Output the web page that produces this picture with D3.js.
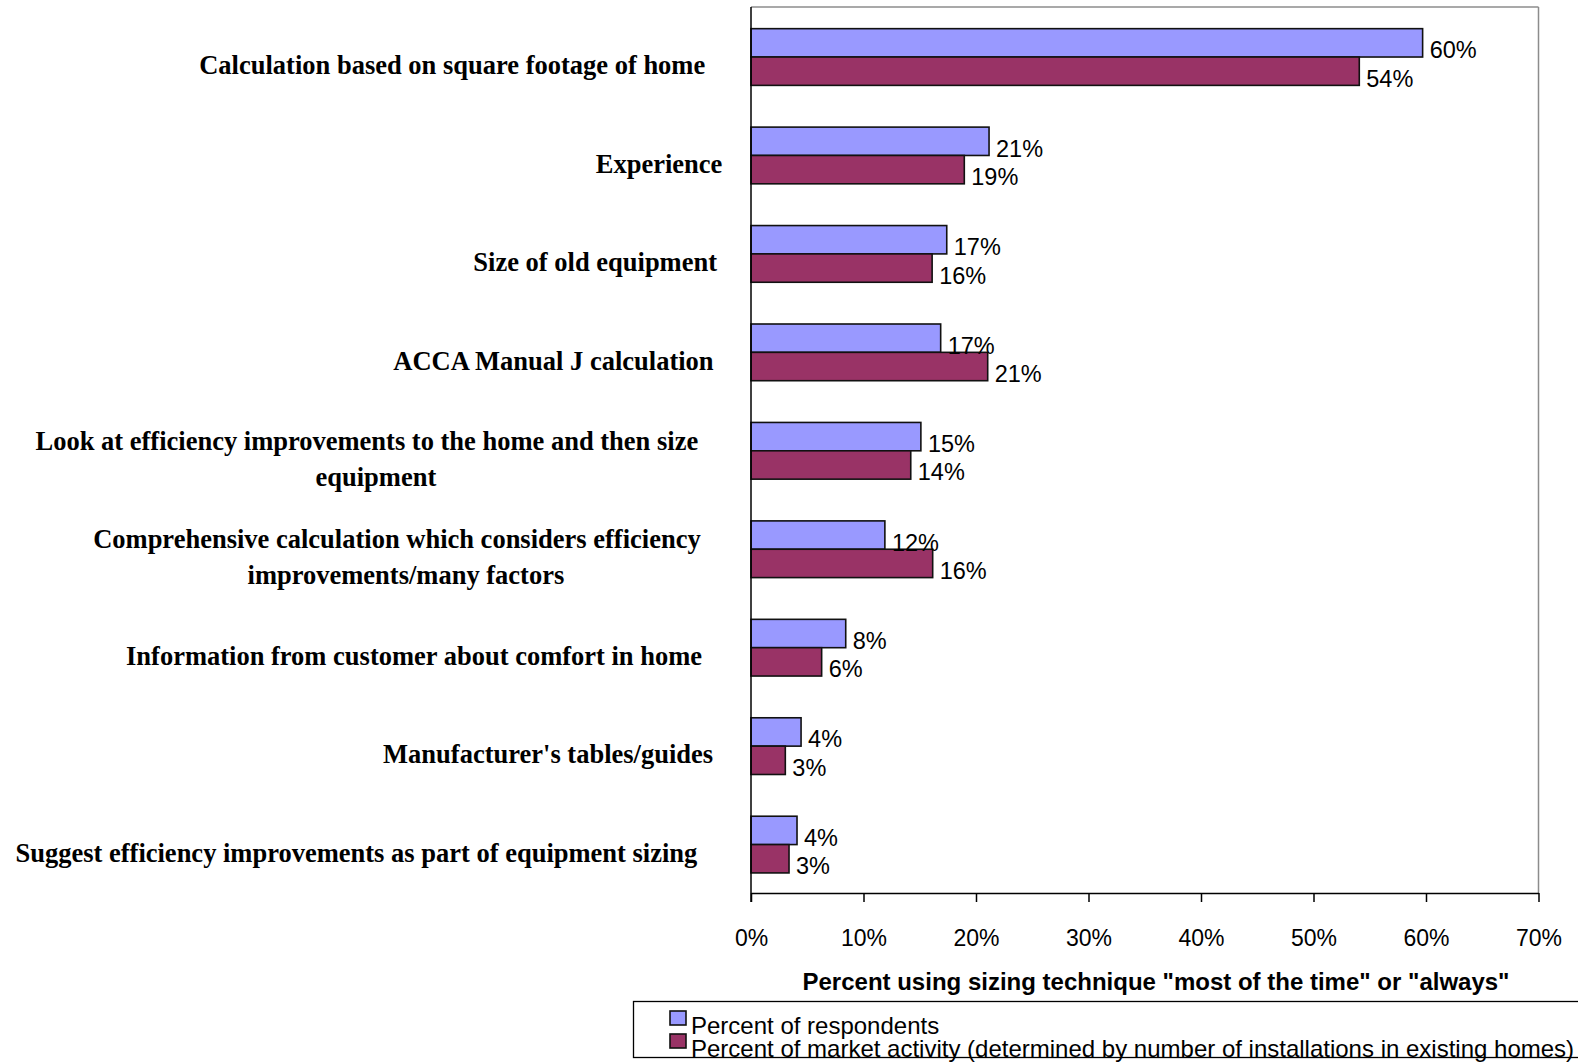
<!DOCTYPE html>
<html>
<head>
<meta charset="utf-8">
<script src="https://cdn.jsdelivr.net/npm/d3@7"></script>
<style>
  html, body { margin: 0; padding: 0; background: #ffffff; }
  svg { display: block; }
</style>
</head>
<body>
<svg id="chart" width="1578" height="1064"></svg>
<script>
// Sizing techniques (multi-line labels split on "\n")
const categories = [
  "Calculation based on square footage of home",
  "Experience",
  "Size of old equipment",
  "ACCA Manual J calculation",
  "Look at efficiency improvements to the home and then size\nequipment",
  "Comprehensive calculation which considers efficiency\nimprovements/many factors",
  "Information from customer about comfort in home",
  "Manufacturer's tables/guides",
  "Suggest efficiency improvements as part of equipment sizing"
];

// Percent values for each series
const respondents = [59.7, 21.16, 17.4, 16.86, 15.1, 11.9, 8.42, 4.45, 4.09];
const marketActivity = [54.07, 18.96, 16.1, 21.04, 14.2, 16.15, 6.28, 3.05, 3.38];

const seriesNames = [
  "Percent of respondents",
  "Percent of market activity (determined by number of installations in existing homes)"
];
const seriesColors = ["#9999FF", "#993366"];

const xTicks = [0, 10, 20, 30, 40, 50, 60, 70];
const tickLabels = ["0%", "10%", "20%", "30%", "40%", "50%", "60%", "70%"];
const axisTitle = "Percent using sizing technique \"most of the time\" or \"always\"";

const svg = d3.select("#chart");
const plot = { left: 751, right: 1538.5, top: 7, bottom: 893 };

const x = d3.scaleLinear().domain([0, 70]).range([plot.left, plot.right]);
const y = d3.scaleBand().domain(d3.range(categories.length))
  .range([plot.top, plot.bottom]).paddingInner(0.424).paddingOuter(0.212);
const ySub = d3.scaleBand().domain([0, 1]).range([0, y.bandwidth()]);

const rows = categories.map((c, i) => ({ i, label: c, values: [respondents[i], marketActivity[i]] }));

// Plot frame: grey top/right, black axes drawn later
svg.append("line").attr("x1", plot.left).attr("x2", plot.right)
  .attr("y1", plot.top).attr("y2", plot.top).attr("stroke", "#8c8c8c").attr("stroke-width", 1.5);
svg.append("line").attr("x1", plot.right).attr("x2", plot.right)
  .attr("y1", plot.top).attr("y2", plot.bottom).attr("stroke", "#8c8c8c").attr("stroke-width", 1.5);

// Bars
const groups = svg.append("g").selectAll("g").data(rows).join("g")
  .attr("transform", d => `translate(0,${y(d.i) + 0.8})`);

groups.selectAll("rect").data(d => d.values.map((v, s) => ({ v, s }))).join("rect")
  .attr("x", x(0))
  .attr("y", d => ySub(d.s))
  .attr("width", d => x(d.v) - x(0))
  .attr("height", ySub.bandwidth())
  .attr("fill", d => seriesColors[d.s])
  .attr("stroke", "#111")
  .attr("stroke-width", 1.6);

// Value labels
const pct = v => d3.format(".0f")(v) + "%";
groups.selectAll("text.val").data(d => d.values.map((v, s) => ({ v, s }))).join("text")
  .attr("class", "val")
  .attr("x", d => x(d.v) + 7)
  .attr("y", d => ySub(d.s) + ySub.bandwidth() / 2 + 15.5)
  .attr("font-family", "'Liberation Sans', Arial, sans-serif")
  .attr("font-size", 23.5)
  .attr("fill", "#000")
  .text(d => pct(d.v));

// Category labels (bold serif, centred lines, right side near axis)
const catG = svg.append("g")
  .attr("font-family", "'Liberation Serif', 'Times New Roman', serif")
  .attr("font-weight", "bold")
  .attr("font-size", 26.5)
  .attr("fill", "#000");

rows.forEach(r => {
  const lines = r.label.split("\n");
  const t = catG.append("text").attr("text-anchor", "middle");
  const cy = y(r.i) + y.bandwidth() / 2;
  const spans = lines.map((ln, k) => t.append("tspan")
    .attr("y", cy + 18 + (k - (lines.length - 1) / 2) * 36)
    .text(ln));
  const w = d3.max(spans, s => s.node().getComputedTextLength());
  const cx = 728 - 0.545 * w;
  // continuation lines sit slightly right of the first line
  spans.forEach((s, k) => s.attr("x", cx + (k > 0 ? 9 : 0)));
});

// Bottom axis
const xAxis = d3.axisBottom(x).tickValues(xTicks)
  .tickFormat((d, i) => tickLabels[i]).tickSize(9).tickSizeOuter(0);
const axG = svg.append("g").attr("transform", `translate(0,${plot.bottom})`).call(xAxis);
axG.select(".domain").attr("stroke", "#000").attr("stroke-width", 1.5);
axG.selectAll(".tick line").attr("stroke", "#000").attr("stroke-width", 1.5);
axG.selectAll(".tick text")
  .attr("y", 53).attr("dy", null)
  .attr("font-family", "'Liberation Sans', Arial, sans-serif")
  .attr("font-size", 23).attr("fill", "#000");

// Left axis line
svg.append("line").attr("x1", plot.left).attr("x2", plot.left)
  .attr("y1", plot.top).attr("y2", plot.bottom + 9)
  .attr("stroke", "#000").attr("stroke-width", 1.5);

// Axis title
svg.append("text")
  .attr("x", 1156).attr("y", 990)
  .attr("text-anchor", "middle")
  .attr("font-family", "'Liberation Sans', Arial, sans-serif")
  .attr("font-weight", "bold").attr("font-size", 24)
  .attr("fill", "#000")
  .text(axisTitle);

// Legend
const leg = svg.append("g");
leg.append("rect").attr("x", 633.5).attr("y", 1001.5).attr("width", 1000).attr("height", 56)
  .attr("fill", "#fff").attr("stroke", "#000").attr("stroke-width", 1.3);
seriesNames.forEach((name, s) => {
  leg.append("rect").attr("x", 670).attr("y", 1011 + s * 23).attr("width", 16).attr("height", 14)
    .attr("fill", seriesColors[s]).attr("stroke", "#111").attr("stroke-width", 1.6);
  leg.append("text").attr("x", 691).attr("y", 1034 + s * 23)
    .attr("font-family", "'Liberation Sans', Arial, sans-serif")
    .attr("font-size", 24).attr("fill", "#000")
    .text(name);
});
</script>
</body>
</html>
